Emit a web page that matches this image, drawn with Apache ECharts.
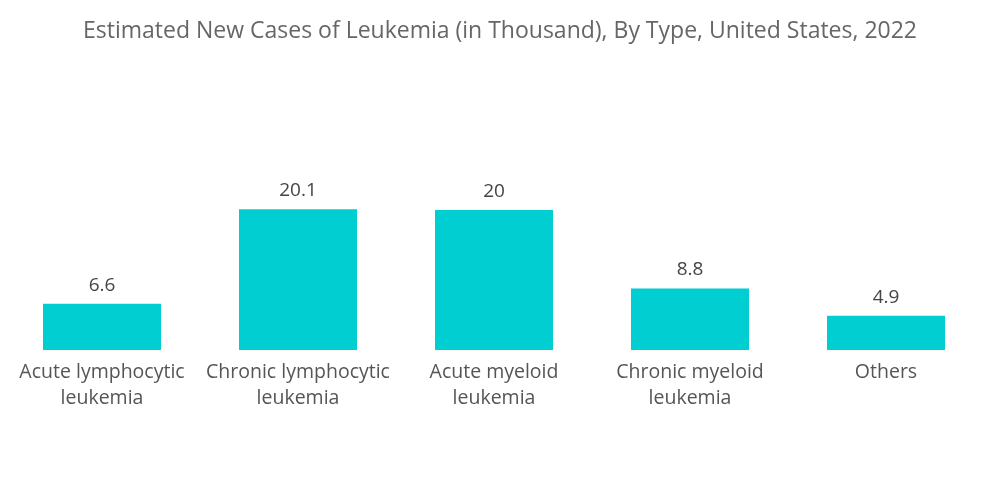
<!DOCTYPE html>
<html><head><meta charset="utf-8">
<script src="https://cdn.jsdelivr.net/npm/echarts@6/dist/echarts.min.js"></script>
<style>html,body{margin:0;padding:0;background:#fff}#c{width:1000px;height:504px}</style>
</head><body><div id="c"></div>
<script>
const categories = ["Acute lymphocytic\nleukemia", "Chronic lymphocytic\nleukemia", "Acute myeloid\nleukemia", "Chronic myeloid\nleukemia", "Others"];
const values = [6.6, 20.1, 20, 8.8, 4.9];
const titleText = "Estimated New Cases of Leukemia (in Thousand), By Type, United States, 2022";
const chart = echarts.init(document.getElementById('c'));
chart.setOption({
  animation: false,
  title: { text: titleText, left: 'center', top: 15,
    textStyle: { fontFamily: 'Open Sans', fontWeight: 'normal', fontSize: 23, color: '#666' } },
  grid: { left: 4, right: 16, top: 175, bottom: 154, containLabel: false },
  xAxis: { type: 'category', data: categories,
    axisLine: { show: false }, axisTick: { show: false },
    axisLabel: { interval: 0, margin: 9, fontFamily: 'Open Sans', fontSize: 19.5, color: '#555', lineHeight: 26 } },
  yAxis: { type: 'value', min: 0, max: 25, show: false, splitLine: { show: false } },
  series: [{ type: 'bar', data: values, barWidth: 118,
    itemStyle: { color: '#00CED1' },
    label: { show: true, position: 'top', distance: 9, fontFamily: 'Open Sans', fontSize: 19, color: '#444' } }]
});
</script></body></html>
